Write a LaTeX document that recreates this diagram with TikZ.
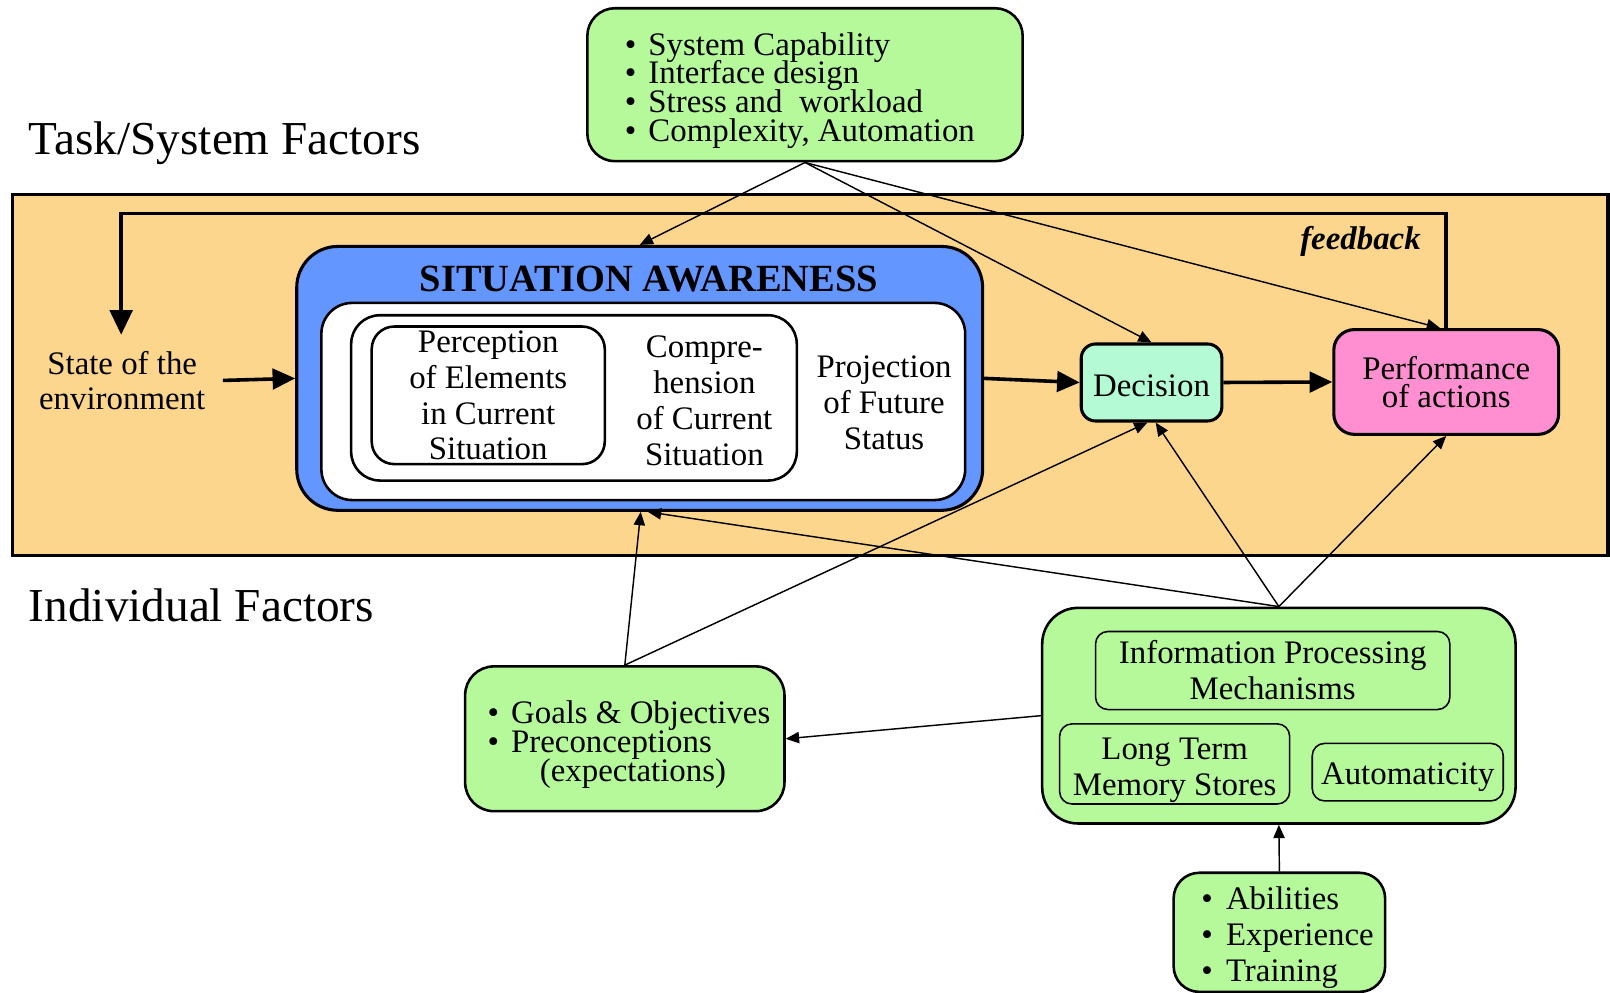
\documentclass[tikz,border=0pt]{standalone}
\usepackage{fontspec}
\setmainfont{Liberation Serif}
\usetikzlibrary{arrows.meta}
\definecolor{boxgreen}{RGB}{181,249,155}
\definecolor{bandorange}{RGB}{253,214,142}
\definecolor{sablue}{RGB}{100,150,255}
\definecolor{decmint}{RGB}{180,250,212}
\definecolor{actpink}{RGB}{255,143,208}
\newcommand\itembullet{\makebox[23pt][l]{\textbullet}}
% keep the stated line spacing even where lines are set tightly
\lineskiplimit=-\maxdimen
\begin{document}
\begin{tikzpicture}[x=1pt,y=-1pt,
  box/.style={draw, line width=2.5pt, rounded corners=#1, inner sep=0pt},
  box/.default=25pt,
  body/.style={font=\fontsize{32}{35}\selectfont, align=center, inner sep=0pt},
  tight/.style={font=\fontsize{32}{28}\selectfont},
  list/.style={align=left, inner sep=0pt, font=\fontsize{32}{28}\selectfont},
  heading/.style={anchor=base west, inner sep=0pt, font=\fontsize{46}{50}\selectfont},
  link/.style={line width=1.4pt, -{Triangle[length=13pt,width=11pt]}},
  mainflow/.style={line width=3.5pt, -{Triangle[length=22pt,width=20pt]}},
  fbline/.style={line width=3.5pt, -{Triangle[length=24pt,width=22pt]}}
]
\useasboundingbox (0,0) rectangle (1568,967);

% band holding the situation-awareness loop
\draw[fill=bandorange, line width=3pt] (12,189) rectangle (1566,541);

% section headings
\node[heading] (tsf) at (28,150) {Task/System Factors};
\node[heading] (indf) at (28,605) {Individual Factors};

% task / system factors
\node[box=27pt, fill=boxgreen, minimum width=424pt, minimum height=149pt] (sys) at (784,82.5) {};
\node[list] (systext) at (779,88)
  {\itembullet System Capability\\ \itembullet Interface design\\ \itembullet Stress and\ \ workload\\ \itembullet Complexity, Automation};

% situation awareness block
\node[box=40pt, line width=3pt, fill=sablue, minimum width=668pt, minimum height=257pt] (sa) at (623,368.5) {};
\node[font=\bfseries\fontsize{37.5}{40}\selectfont, inner sep=0pt] (satitle) at (632,272) {SITUATION AWARENESS};
\node[box=30pt, fill=white, minimum width=627pt, minimum height=192pt] (saframe) at (626.5,391) {};
\node[box=28pt, fill=white, minimum width=434pt, minimum height=161pt] (comp) at (559,387.5) {};
\node[box=22pt, fill=white, minimum width=227pt, minimum height=134pt, body] (perc) at (475.5,385)
  {Perception\\of Elements\\in Current\\Situation};
\node[body] (comptext) at (686,390) {Compre-\\hension\\of Current\\Situation};
\node[body] (proj) at (861,392) {Projection\\of Future\\Status};

% environment, decision, action
\node[body, font=\fontsize{32}{34}\selectfont] (env) at (119,371) {State of the\\environment};
\node[box=14pt, line width=3pt, fill=decmint, minimum width=137pt, minimum height=75pt] (dec) at (1121.5,372.5) {};
\node[body] (dectext) at (1121.5,375.5) {Decision};
\node[box=20pt, line width=3pt, fill=actpink, minimum width=219pt, minimum height=102pt, body, tight] (perf) at (1408.5,372)
  {Performance\\of actions};
\node[font=\bfseries\itshape\fontsize{32}{36}\selectfont, inner sep=0pt] (fbtext) at (1325,235) {feedback};

% individual factors
\node[box=28pt, fill=boxgreen, minimum width=311pt, minimum height=141pt] (goals) at (608.5,719.5) {};
\node[list] (goalstext) at (612.5,725)
  {\itembullet Goals \& Objectives\\ \itembullet Preconceptions\\ \hspace*{51pt}(expectations)};
\node[box=35pt, fill=boxgreen, minimum width=461pt, minimum height=210pt] (indiv) at (1245.5,697) {};
\node[box=12pt, line width=1.5pt, minimum width=345pt, minimum height=76pt, body] (ipm) at (1239.5,653)
  {Information Processing\\Mechanisms};
\node[box=12pt, line width=1.5pt, minimum width=224pt, minimum height=78pt] (ltm) at (1144,744) {};
\node[body] (ltmtext) at (1144,750) {Long Term\\Memory Stores};
\node[box=12pt, line width=1.5pt, minimum width=186pt, minimum height=56pt] (auto) at (1371,752) {};
\node[body] (autotext) at (1371,757) {Automaticity};
\node[box=25pt, fill=boxgreen, minimum width=206pt, minimum height=116pt] (abil) at (1246,908) {};
\node[align=left, inner sep=0pt, font=\fontsize{32}{35}\selectfont] (abiltext) at (1254,913)
  {\makebox[24pt][l]{\textbullet}Abilities\\ \makebox[24pt][l]{\textbullet}Experience\\ \makebox[24pt][l]{\textbullet}Training};

% main flow
\draw[mainflow, shorten <=17pt] (env.east) -- (sa.west);
\draw[mainflow] (sa.east) -- (dec.west);
\draw[mainflow] (dec.east) -- (perf.west);

% feedback loop
\coordinate (fbleft) at (118,208);
\coordinate (envtop) at (118,326);
\draw[fbline] (perf.north) |- (fbleft) -- (envtop);

% influences
\draw[link] (sys.south) -- (sa.north);
\draw[link] (sys.south) -- (dec.north);
\draw[link] (sys.south) -- ([xshift=-6pt]perf.north);
\draw[link] (goals.north) -- ([xshift=1pt]sa.south);
\draw[link] (goals.north) -- ([xshift=-4pt]dec.south);
\draw[link] (indiv.north) -- ([xshift=8pt]sa.south);
\draw[link] (indiv.north) -- ([xshift=4pt]dec.south);
\draw[link] (indiv.north) -- (perf.south);
\draw[link] (indiv.west) -- (goals.east);
\draw[link] (abil.north) -- (indiv.south);
\end{tikzpicture}
\end{document}
